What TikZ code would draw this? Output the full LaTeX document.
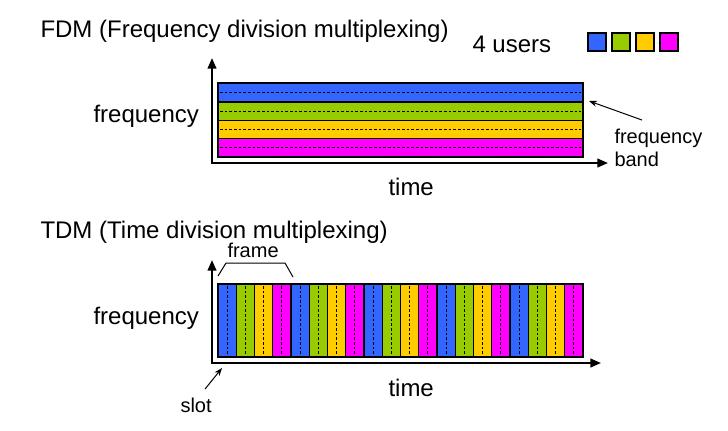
\documentclass[tikz,border=0pt]{standalone}
\usepackage{fontspec}
\setmainfont{Liberation Sans}
\usetikzlibrary{arrows.meta}

\definecolor{userblue}{RGB}{51,102,255}
\definecolor{usergreen}{RGB}{153,204,0}
\definecolor{useryellow}{RGB}{255,204,0}
\definecolor{usermagenta}{RGB}{255,0,255}

\tikzset{every picture/.style={line width=0.75pt}}
\tikzset{
  bigtext/.style={font=\fontsize{18}{21}\selectfont, inner sep=0pt, anchor=base west},
  smalltext/.style={font=\fontsize{15}{18}\selectfont, inner sep=0pt, anchor=base west},
  axisline/.style={line width=1.6pt, -{Triangle[length=8pt,width=6.5pt]}},
  pointer/.style={line width=0.75pt, -{Stealth[length=6pt,width=4.5pt]}},
  midline/.style={black, dashed, line width=0.6pt, dash pattern=on 2pt off 1.5pt},
}

\begin{document}
\begin{tikzpicture}[x=0.75pt,y=0.75pt,yscale=-1,xscale=1]
\useasboundingbox (0,0) rectangle (728,430);

% Text Node
\node [bigtext] (fdmtitle) at (40,37) {FDM (Frequency division multiplexing)};
% Text Node
\node [bigtext] (users) at (472,52) {4 users};

%Shape: Rectangle
\draw [fill=userblue, line width=1pt] (588,33) rectangle (606,51);
\draw [fill=usergreen, line width=1pt] (612,33) rectangle (630,51);
\draw [fill=useryellow, line width=1pt] (636,33) rectangle (654,51);
\draw [fill=usermagenta, line width=1pt] (660,33) rectangle (678,51);

%Shape: Rectangle
\draw [fill=userblue, line width=1pt] (218,83) rectangle (583,102);
\draw [midline] (220,92.5) -- (581,92.5);
%Shape: Rectangle
\draw [fill=usergreen, line width=1pt] (218,102) rectangle (583,120.5);
\draw [midline] (220,111.25) -- (581,111.25);
%Shape: Rectangle
\draw [fill=useryellow, line width=1pt] (218,120.5) rectangle (583,138.5);
\draw [midline] (220,129.5) -- (581,129.5);
%Shape: Rectangle
\draw [fill=usermagenta, line width=1pt] (218,138.5) rectangle (583,157);
\draw [midline] (220,147.75) -- (581,147.75);
\coordinate (bandtip) at (589,101);

%Straight Lines
\coordinate (fo) at (212,163);
\coordinate (fy) at (212,58);
\coordinate (fx) at (608,163);
\draw [axisline] (fo) -- (fy);
\draw [axisline] ([xshift=-0.8pt]fo) -- (fx);

% Text Node
\node [bigtext] (ffreq) at (93,122) {frequency};
% Text Node
\node [bigtext] (ftime) at (388,195) {time};
% Text Node
\node [smalltext] (bandlbl) at (614,143) {frequency};
% Text Node
\node [smalltext] (bandlbl2) at (614,166) {band};
%Straight Lines
\draw [pointer] (bandlbl.north west) ++(28,-8) coordinate (bandtail) -- (bandtip);

% Text Node
\node [bigtext] (tdmtitle) at (40,238) {TDM (Time division multiplexing)};

%Shape: Rectangle
\draw [fill=userblue, line width=1pt] (218,284) rectangle (236.25,357);
\draw [midline] (227.125,286) -- (227.125,355);
\draw [fill=usergreen, line width=1pt] (236.25,284) rectangle (254.5,357);
\draw [midline] (245.375,286) -- (245.375,355);
\draw [fill=useryellow, line width=1pt] (254.5,284) rectangle (272.75,357);
\draw [midline] (263.625,286) -- (263.625,355);
\draw [fill=usermagenta, line width=1pt] (272.75,284) rectangle (291,357);
\draw [midline] (281.875,286) -- (281.875,355);
%Shape: Rectangle
\draw [fill=userblue, line width=1pt] (291,284) rectangle (309.25,357);
\draw [midline] (300.125,286) -- (300.125,355);
\draw [fill=usergreen, line width=1pt] (309.25,284) rectangle (327.5,357);
\draw [midline] (318.375,286) -- (318.375,355);
\draw [fill=useryellow, line width=1pt] (327.5,284) rectangle (345.75,357);
\draw [midline] (336.625,286) -- (336.625,355);
\draw [fill=usermagenta, line width=1pt] (345.75,284) rectangle (364,357);
\draw [midline] (354.875,286) -- (354.875,355);
%Shape: Rectangle
\draw [fill=userblue, line width=1pt] (364,284) rectangle (382.25,357);
\draw [midline] (373.125,286) -- (373.125,355);
\draw [fill=usergreen, line width=1pt] (382.25,284) rectangle (400.5,357);
\draw [midline] (391.375,286) -- (391.375,355);
\draw [fill=useryellow, line width=1pt] (400.5,284) rectangle (418.75,357);
\draw [midline] (409.625,286) -- (409.625,355);
\draw [fill=usermagenta, line width=1pt] (418.75,284) rectangle (437,357);
\draw [midline] (427.875,286) -- (427.875,355);
%Shape: Rectangle
\draw [fill=userblue, line width=1pt] (437,284) rectangle (455.25,357);
\draw [midline] (446.125,286) -- (446.125,355);
\draw [fill=usergreen, line width=1pt] (455.25,284) rectangle (473.5,357);
\draw [midline] (464.375,286) -- (464.375,355);
\draw [fill=useryellow, line width=1pt] (473.5,284) rectangle (491.75,357);
\draw [midline] (482.625,286) -- (482.625,355);
\draw [fill=usermagenta, line width=1pt] (491.75,284) rectangle (510,357);
\draw [midline] (500.875,286) -- (500.875,355);
%Shape: Rectangle
\draw [fill=userblue, line width=1pt] (510,284) rectangle (528.25,357);
\draw [midline] (519.125,286) -- (519.125,355);
\draw [fill=usergreen, line width=1pt] (528.25,284) rectangle (546.5,357);
\draw [midline] (537.375,286) -- (537.375,355);
\draw [fill=useryellow, line width=1pt] (546.5,284) rectangle (564.75,357);
\draw [midline] (555.625,286) -- (555.625,355);
\draw [fill=usermagenta, line width=1pt] (564.75,284) rectangle (583,357);
\draw [midline] (573.875,286) -- (573.875,355);
\coordinate (slottip) at (222,368);

%Straight Lines
\coordinate (to) at (212,363);
\coordinate (ty) at (212,260);
\coordinate (tx) at (601,363);
\draw [axisline] (to) -- (ty);
\draw [axisline] ([xshift=-0.8pt]to) -- (tx);

% Text Node
\node [smalltext] (framelbl) at (227,257) {frame};
%Straight Lines
\draw [line width=0.75pt] (218,276) -- (226,263) -- (285,263) -- (293,277);

% Text Node
\node [bigtext] (tfreq) at (93,324) {frequency};
% Text Node
\node [bigtext] (ttime) at (388,396) {time};
% Text Node
\node [smalltext] (slotlbl) at (180,412) {slot};
%Straight Lines
\draw [pointer] (slotlbl.north) ++(9,-8) coordinate (slottail) -- (slottip);

\end{tikzpicture}
\end{document}
